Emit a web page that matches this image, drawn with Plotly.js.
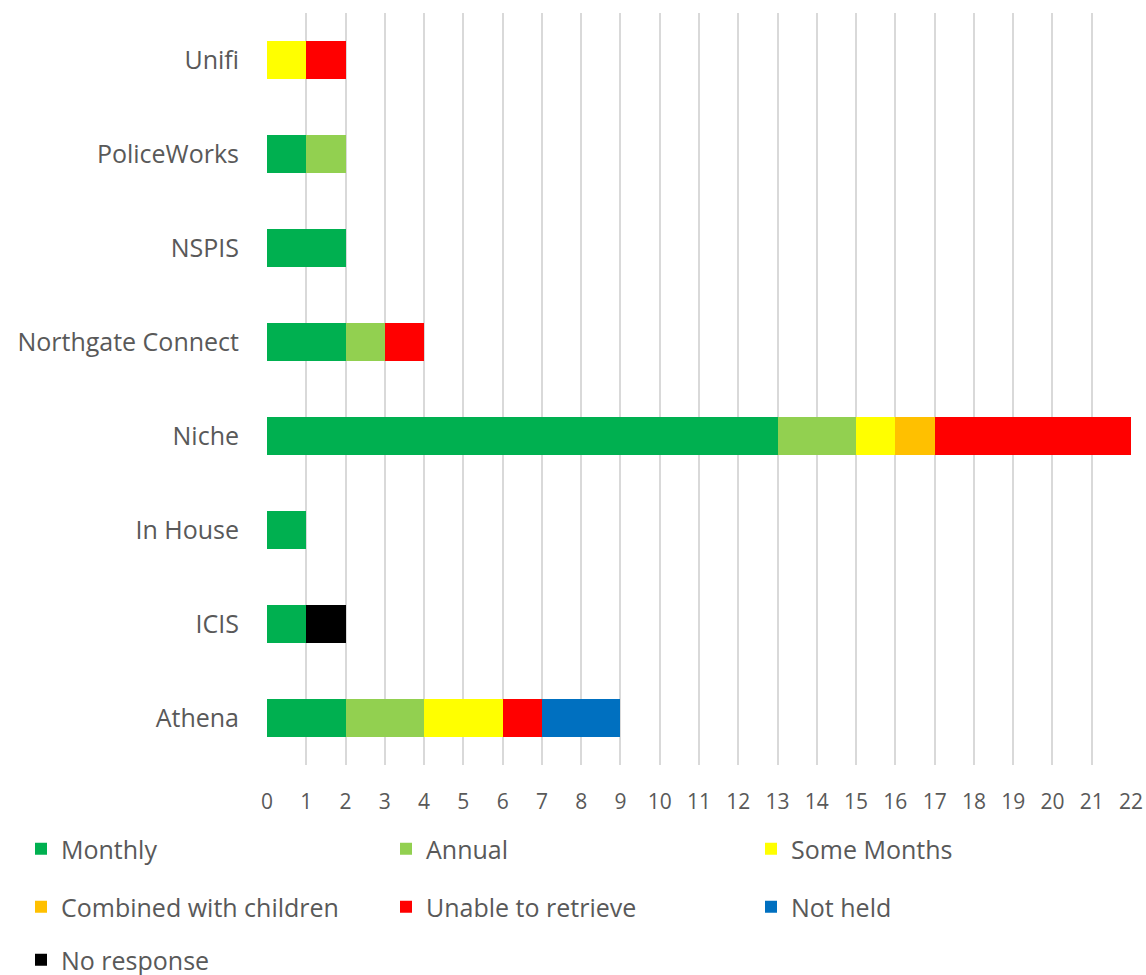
<!DOCTYPE html>
<html>
<head>
<meta charset="utf-8">
<script src="https://cdn.plot.ly/plotly-3.0.1.min.js"></script>
<style>html,body{margin:0;padding:0;background:#fff;}#chart{width:1146px;height:975px;}</style>
</head>
<body>
<div id="chart"></div>
<script>
const categories = ["Athena", "ICIS", "In House", "Niche", "Northgate Connect", "NSPIS", "PoliceWorks", "Unifi"];
const monthly      = [2, 1, 1, 13, 2, 2, 1, 0];
const annual       = [2, 0, 0, 2, 1, 0, 1, 0];
const someMonths   = [2, 0, 0, 1, 0, 0, 0, 1];
const combined     = [0, 0, 0, 1, 0, 0, 0, 0];
const unable       = [1, 0, 0, 5, 1, 0, 0, 1];
const notHeld      = [2, 0, 0, 0, 0, 0, 0, 0];
const noResponse   = [0, 1, 0, 0, 0, 0, 0, 0];
const xTicks = [0,1,2,3,4,5,6,7,8,9,10,11,12,13,14,15,16,17,18,19,20,21,22];

const series = [
  {name: "Monthly", values: monthly, color: "#00B050", legend: "legend"},
  {name: "Annual", values: annual, color: "#92D050", legend: "legend"},
  {name: "Some Months", values: someMonths, color: "#FFFF00", legend: "legend"},
  {name: "Combined with children", values: combined, color: "#FFC000", legend: "legend2"},
  {name: "Unable to retrieve", values: unable, color: "#FF0000", legend: "legend2"},
  {name: "Not held", values: notHeld, color: "#0070C0", legend: "legend2"},
  {name: "No response", values: noResponse, color: "#000000", legend: "legend3"}
];

const traces = series.map(s => ({
  type: "bar",
  orientation: "h",
  name: s.name,
  y: categories,
  x: s.values,
  marker: {color: s.color, line: {width: 0}},
  legend: s.legend,
  hoverinfo: "x+name"
}));

const fontFam = "Open Sans, Liberation Sans, sans-serif";
const plotBottom = 765, plotH = 752, plotL = 267, plotW = 864;
const legendBase = {
  orientation: "h",
  traceorder: "normal",
  xref: "paper",
  yref: "paper",
  x: (21 - plotL) / plotW,
  xanchor: "left",
  yanchor: "middle",
  entrywidth: 320,
  entrywidthmode: "pixels",
  font: {family: fontFam, size: 25, color: "#595959"},
  bgcolor: "rgba(0,0,0,0)",
  itemclick: false
};

const layout = {
  width: 1146,
  height: 975,
  paper_bgcolor: "#fff",
  plot_bgcolor: "#fff",
  barmode: "stack",
  bargap: 0.6,
  margin: {l: 267, r: 15, t: 13, b: 210, autoexpand: false},
  font: {family: fontFam, color: "#595959"},
  xaxis: {
    range: [0, 22],
    tickvals: xTicks,
    ticktext: xTicks.map(String),
    showgrid: true,
    gridcolor: "#D9D9D9",
    gridwidth: 2,
    zeroline: false,
    showline: false,
    ticks: "",
    tickfont: {family: fontFam, size: 21, color: "#595959"},
    ticklabelstandoff: 22
  },
  yaxis: {
    type: "category",
    categoryorder: "array",
    categoryarray: categories,
    showgrid: false,
    zeroline: false,
    showline: false,
    ticks: "",
    ticklabelstandoff: 27,
    tickfont: {family: fontFam, size: 25, color: "#595959"}
  },
  legend: Object.assign({}, legendBase, {y: -(849 - plotBottom) / plotH}),
  legend2: Object.assign({}, legendBase, {y: -(907 - plotBottom) / plotH}),
  legend3: Object.assign({}, legendBase, {y: -(960 - plotBottom) / plotH}),
  showlegend: true
};

Plotly.newPlot("chart", traces, layout, {displayModeBar: false, responsive: false});
</script>
</body>
</html>
